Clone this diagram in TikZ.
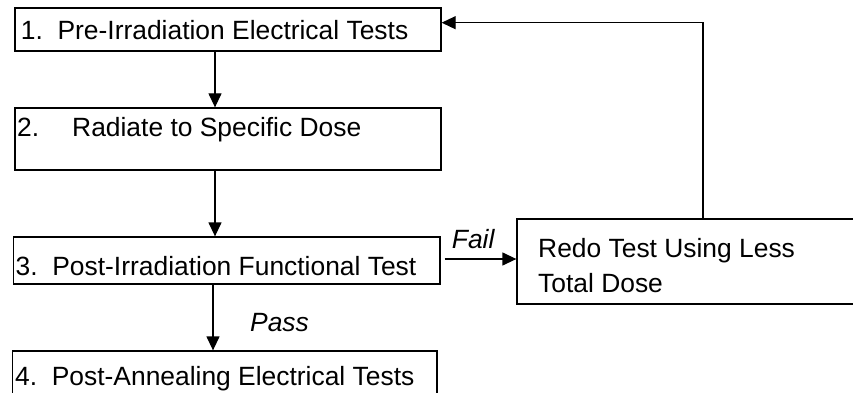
\documentclass[tikz,border=0pt]{standalone}
\usepackage{fontspec}
\setmainfont{Liberation Sans}
\usetikzlibrary{arrows.meta,calc}
\begin{document}
\begin{tikzpicture}[x=1pt,y=-1pt,
  box/.style={draw=black,line width=1.3pt,rectangle,inner sep=0pt},
  txt/.style={anchor=base west,inner sep=0pt,font=\fontsize{26.4}{31}\selectfont},
  itxt/.style={txt,font=\fontsize{26.4}{31}\selectfont\itshape},
  arr/.style={line width=1.3pt,-{Triangle[length=14pt,width=13pt]}},
  ln/.style={line width=1.3pt}]
\clip (0,0) rectangle (853,393);
\fill[white] (0,0) rectangle (853,393);
% boxes
\node[box,minimum width=426pt,minimum height=43pt] (b1) at (228,29.5) {};
\node[box,minimum width=426pt,minimum height=62pt] (b2) at (228,139) {};
\node[box,minimum width=426.5pt,minimum height=47pt] (b3) at (226.75,260.5) {};
\node[box,minimum width=424.5pt,minimum height=69pt] (b4) at (224.75,385.5) {};
\node[box,minimum width=383pt,minimum height=85pt] (b5) at (708.5,261.5) {};
% texts
\node[txt] (t1) at (20.7,39.3) {1.\ \ Pre-Irradiation Electrical Tests};
\node[txt] (t2) at (17,136.7) {2.\hspace{33pt}Radiate to Specific Dose};
\node[txt] (t3) at (15.5,275) {3.\ \ Post-Irradiation Functional Test};
\node[txt] (t4) at (15,385) {4.\ \ Post-Annealing Electrical Tests};
\node[txt] (t5a) at (538,257.3) {Redo Test Using Less};
\node[txt] (t5b) at (538,292.7) {Total Dose};
\node[itxt] (fail) at (451.7,248.3) {Fail};
\node[itxt] (pass) at (250,331.7) {Pass};
% coordinates for connector columns
\coordinate (c12) at (215,0);
\coordinate (c34) at (213,0);
\coordinate (cfb) at (703,22.7);
\coordinate (cfail) at (0,259);
% connectors
\draw[arr] (c12 |- b1.south) -- (c12 |- b2.north);
\draw[arr] (c12 |- b2.south) -- (c12 |- b3.north);
\draw[arr] (c34 |- b3.south) -- (c34 |- b4.north);
\draw[arr,shorten <=4pt] (b3.east |- cfail) -- (b5.west |- cfail);
\draw[arr] (cfb |- b5.north) -- (cfb) -- (b1.east |- cfb);
\end{tikzpicture}
\end{document}
